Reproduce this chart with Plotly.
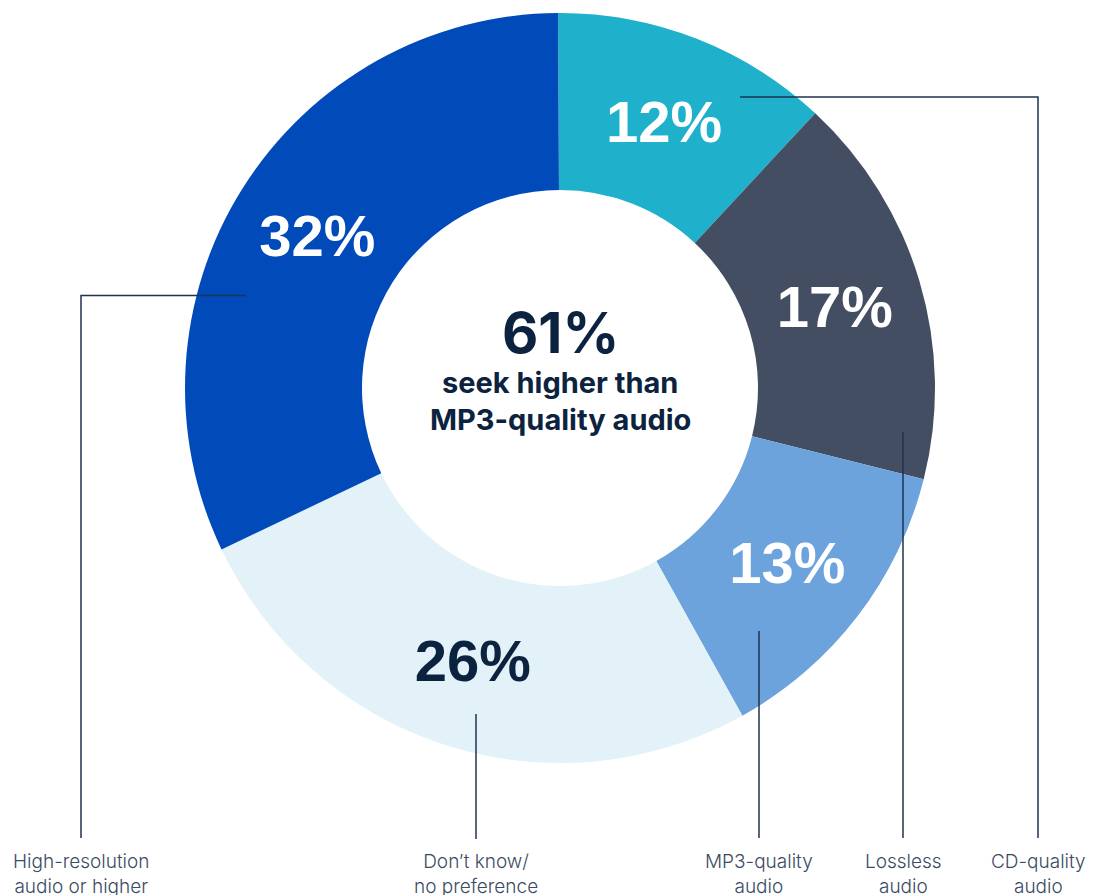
import plotly.graph_objects as go

# Audio quality preference shares (clockwise from 12 o'clock)
categories = ["CD-quality audio", "Lossless audio", "MP3-quality audio",
              "Don't know/ no preference", "High-resolution audio or higher"]
shares = [12, 17, 13, 26, 32]
bottom_labels = ["CD-quality<br>audio", "Lossless<br>audio", "MP3-quality<br>audio",
                 "Don’t know/<br>no preference", "High-resolution<br>audio or higher"]
colors = ["#1fb0cb", "#434e62", "#6ca3dc", "#e2f2f8", "#004bb9"]
text_colors = ["#ffffff", "#ffffff", "#ffffff", "#0c2340", "#ffffff"]

headline_value = "61%"
headline_lines = ["seek higher than", "MP3-quality audio"]

W, H = 1093, 895
NAVY = "#0c2340"
LINE = "#1e3350"


def px(x):
    return x / W


def py(y):
    return 1 - y / H


# donut placement (pixel box of the ring)
cx, cy, R = 560, 388, 375

fig = go.Figure(go.Pie(
    labels=categories,
    values=shares,
    sort=False,
    direction="clockwise",
    rotation=-0.3,
    hole=0.528,
    marker=dict(colors=colors, line=dict(width=0)),
    texttemplate="%{value}%",
    textposition="inside",
    insidetextorientation="horizontal",
    textfont=dict(family="Liberation Sans, Arial, sans-serif", size=58,
                  color=text_colors, weight=700),
    hoverinfo="label+percent",
    showlegend=False,
    domain=dict(x=[px(cx - R), px(cx + R)], y=[py(cy + R), py(cy - R)]),
))

# leader lines: anchor inside slice -> bottom label
leaders = [
    [(740, 97), (1038, 97), (1038, 838)],
    [(903, 432), (903, 838)],
    [(759, 631), (759, 838)],
    [(476, 714), (476, 839)],
    [(246, 295.5), (81, 295.5), (81, 838)],
]
label_x = [1038, 903, 759, 476, 81]

shapes = []
for pts in leaders:
    path = "M " + " L ".join(f"{px(x)},{py(y)}" for x, y in pts)
    shapes.append(dict(type="path", xref="paper", yref="paper", path=path,
                       line=dict(color=LINE, width=1.5)))

annotations = []
for lx, txt in zip(label_x, bottom_labels):
    annotations.append(dict(
        x=px(lx), y=py(873.5), xref="paper", yref="paper",
        text=txt, showarrow=False, xanchor="center", yanchor="middle",
        font=dict(family="Inter, Lato, sans-serif", size=19, color="#3a4b62",
                  weight=300),
    ))

annotations.append(dict(
    x=px(cx), y=py(333), xref="paper", yref="paper", text=headline_value,
    showarrow=False, xanchor="center", yanchor="middle",
    font=dict(family="Inter, sans-serif", size=56, color=NAVY, weight=700),
))
for i, line in enumerate(headline_lines):
    annotations.append(dict(
        x=px(cx), y=py(382 + 38 * i), xref="paper", yref="paper", text=line,
        showarrow=False, xanchor="center", yanchor="middle",
        font=dict(family="Inter, sans-serif", size=29, color=NAVY, weight=700),
    ))

fig.update_layout(
    width=W, height=H,
    margin=dict(l=0, r=0, t=0, b=0),
    paper_bgcolor="#ffffff",
    plot_bgcolor="#ffffff",
    shapes=shapes,
    annotations=annotations,
)

fig.write_html("out.html")
